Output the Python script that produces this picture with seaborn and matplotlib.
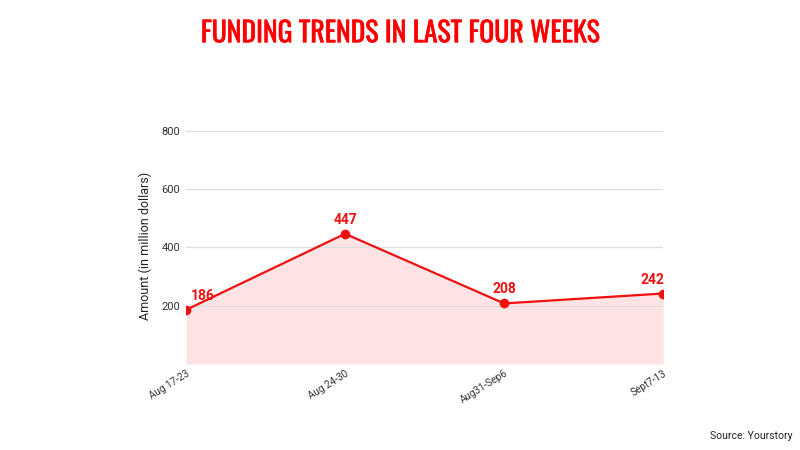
import matplotlib
matplotlib.use("Agg")
import matplotlib.pyplot as plt
import matplotlib.patheffects as pe
import seaborn as sns
import pandas as pd

weeks = ["Aug 17-23", "Aug 24-30", "Aug31-Sep6", "Sept7-13"]
amounts = [186, 447, 208, 242]
yticks = [200, 400, 600, 800]

sns.set_theme(style="white")
plt.rcParams['font.family'] = ['Roboto', 'DejaVu Sans']

df = pd.DataFrame({"week": weeks, "amount": amounts, "x": range(len(weeks))})

fig = plt.figure(figsize=(8, 4.5), dpi=100)
ax = fig.add_axes([0.2325, 0.191, 0.5965, 0.5246])

red = "#f01010"
ax.fill_between(df["x"], df["amount"], 0, color="#fde3e3", zorder=1, linewidth=0)
for t in yticks:
    ax.axhline(t, color="#dddddd", linewidth=0.9, zorder=2)
sns.lineplot(data=df, x="x", y="amount", ax=ax, color=red, linewidth=1.6,
             marker="o", markersize=7, markeredgewidth=0, zorder=3)

offsets = [(12, 5), (0, 5), (0, 5), (-8, 5)]
for xi, v, (dx, dy) in zip(df["x"], df["amount"], offsets):
    ax.annotate(str(v), (xi, v), xytext=(dx, dy), textcoords="offset points",
                ha="center", va="bottom", color=red, fontsize=10, fontweight="bold")

ax.set_xlim(0, len(weeks) - 1)
ax.set_ylim(0, 810)
ax.set_yticks(yticks)
ax.set_yticklabels([str(t) for t in yticks], fontsize=8, color="#333333")
ax.set_xticks(df["x"])
ax.set_xticklabels(weeks, rotation=32, ha="right", rotation_mode="anchor", fontsize=7.2, color="#333333")
ax.tick_params(axis="y", pad=4, length=0)
ax.tick_params(axis="x", pad=3, length=0)
ax.set_xlabel("")
ax.set_ylabel("Amount (in million dollars)", fontsize=9, color="#222222", labelpad=7)
for s in ax.spines.values():
    s.set_visible(False)

fig.text(0.5, 0.925, "FUNDING TRENDS IN LAST FOUR WEEKS", ha="center", va="center",
         fontsize=20, color="#ff0000", family=['Oswald', 'DejaVu Sans'],
         path_effects=[pe.withStroke(linewidth=0.4, foreground="#ff0000")])
fig.text(0.99, 0.032, "Source: Yourstory", ha="right", va="center", fontsize=7.5, color="#222222")

fig.savefig("out.png", dpi=100)
